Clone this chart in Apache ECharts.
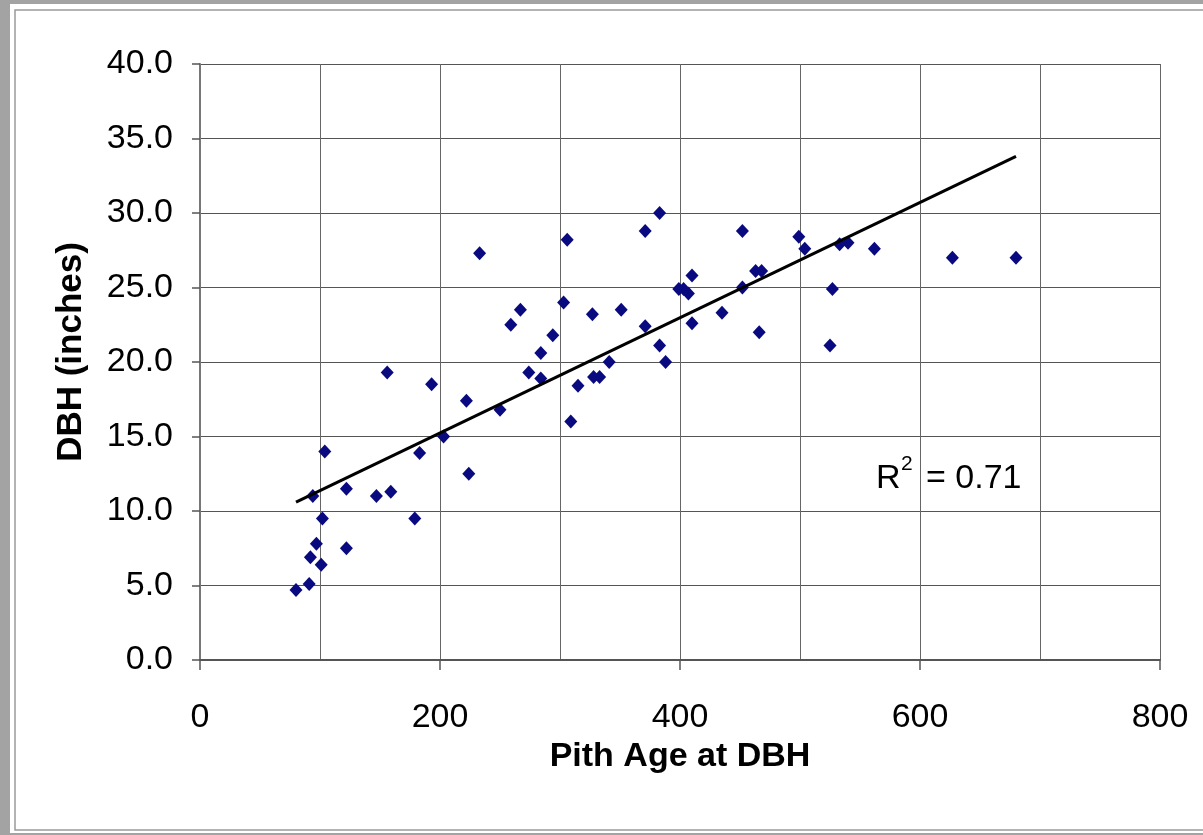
<!DOCTYPE html>
<html>
<head>
<meta charset="utf-8">
<script src="https://cdn.jsdelivr.net/npm/echarts@6/dist/echarts.min.js"></script>
<style>
html,body{margin:0;padding:0;background:#a3a3a3;}
#chart{width:1203px;height:835px;}
</style>
</head>
<body>
<div id="chart"></div>
<script>
// Data
var pithAge = [80, 91, 92, 97, 101, 94, 102, 104, 122, 122,
  156, 147, 159, 179, 183, 193, 203, 222, 224, 233,
  250, 259, 267, 274, 284, 284, 294, 303, 306, 309,
  315, 327, 328, 333, 341, 351, 371, 371, 383, 383,
  388, 399, 403, 407, 410, 410, 435, 452, 452, 463,
  468, 466, 499, 504, 525, 527, 533, 540, 562, 627, 680];
var dbh = [4.7, 5.1, 6.9, 7.8, 6.4, 11.0, 9.5, 14.0, 11.5, 7.5,
  19.3, 11.0, 11.3, 9.5, 13.9, 18.5, 15.0, 17.4, 12.5, 27.3,
  16.8, 22.5, 23.5, 19.3, 20.6, 18.9, 21.8, 24.0, 28.2, 16.0,
  18.4, 23.2, 19.0, 19.0, 20.0, 23.5, 28.8, 22.4, 30.0, 21.1,
  20.0, 24.9, 24.9, 24.6, 25.8, 22.6, 23.3, 28.8, 25.0, 26.1,
  26.1, 22.0, 28.4, 27.6, 21.1, 24.9, 27.9, 28.0, 27.6, 27.0, 27.0];
var trendX = [80, 680];
var trendY = [10.6, 33.8];
var xTitle = 'Pith Age at DBH';
var yTitle = 'DBH (inches)';
var rSquared = '0.71';

var points = pithAge.map(function (x, i) { return [x, dbh[i]]; });
var trend = trendX.map(function (x, i) { return [x, trendY[i]]; });

var FONT = 'Liberation Sans, Arial, sans-serif';
var chart = echarts.init(document.getElementById('chart'), null, {renderer: 'canvas'});
chart.setOption({
  backgroundColor: '#a3a3a3',
  animation: false,
  graphic: [
    {type: 'rect', z: -10, shape: {x: 10, y: 4, width: 1193, height: 829}, style: {fill: '#ffffff'}},
    {type: 'rect', z: -9, shape: {x: 15, y: 10, width: 1200, height: 820}, style: {fill: 'none', stroke: '#9a9a9a', lineWidth: 1.5}},
    {type: 'text', x: 71, y: 352, rotation: Math.PI / 2,
      style: {text: yTitle, font: 'bold 35px ' + FONT, fill: '#000', align: 'center', verticalAlign: 'middle'}},
    {type: 'text', x: 876, y: 479,
      style: {text: 'R', font: '34px ' + FONT, fill: '#000', align: 'left', verticalAlign: 'middle'}},
    {type: 'text', x: 901, y: 464,
      style: {text: '2', font: '21px ' + FONT, fill: '#000', align: 'left', verticalAlign: 'middle'}},
    {type: 'text', x: 926, y: 479,
      style: {text: '= ' + rSquared, font: '34px ' + FONT, fill: '#000', align: 'left', verticalAlign: 'middle'}}
  ],
  grid: {left: 200, right: 43, top: 64, bottom: 175, containLabel: false},
  xAxis: {
    type: 'value', min: 0, max: 800, interval: 200,
    axisLine: {show: true, onZero: false, lineStyle: {color: '#555', width: 2}},
    axisTick: {show: true, length: 10, lineStyle: {color: '#555', width: 1.5}},
    minorTick: {show: false, splitNumber: 2},
    minorSplitLine: {show: true, lineStyle: {color: '#666', width: 1}},
    splitLine: {show: true, lineStyle: {color: '#666', width: 1}},
    axisLabel: {color: '#000', fontSize: 34, fontFamily: FONT, margin: 41},
    name: xTitle, nameLocation: 'middle', nameGap: 79,
    nameTextStyle: {color: '#000', fontSize: 34, fontWeight: 'bold', fontFamily: FONT}
  },
  yAxis: {
    type: 'value', min: 0, max: 40, interval: 5,
    axisLine: {show: true, onZero: false, lineStyle: {color: '#777', width: 2}},
    axisTick: {show: true, length: 8, lineStyle: {color: '#555', width: 1.5}},
    splitLine: {show: true, lineStyle: {color: '#555', width: 1}},
    axisLabel: {color: '#000', fontSize: 34, fontFamily: FONT, margin: 27,
      formatter: function (v) { return v.toFixed(1); }}
  },
  series: [
    {type: 'scatter', data: points, symbol: 'diamond', symbolSize: [13, 14],
      itemStyle: {color: '#0a0a80', opacity: 1}, z: 3},
    {type: 'line', data: trend, symbol: 'none', lineStyle: {color: '#000', width: 3}, z: 4}
  ]
});
</script>
</body>
</html>
